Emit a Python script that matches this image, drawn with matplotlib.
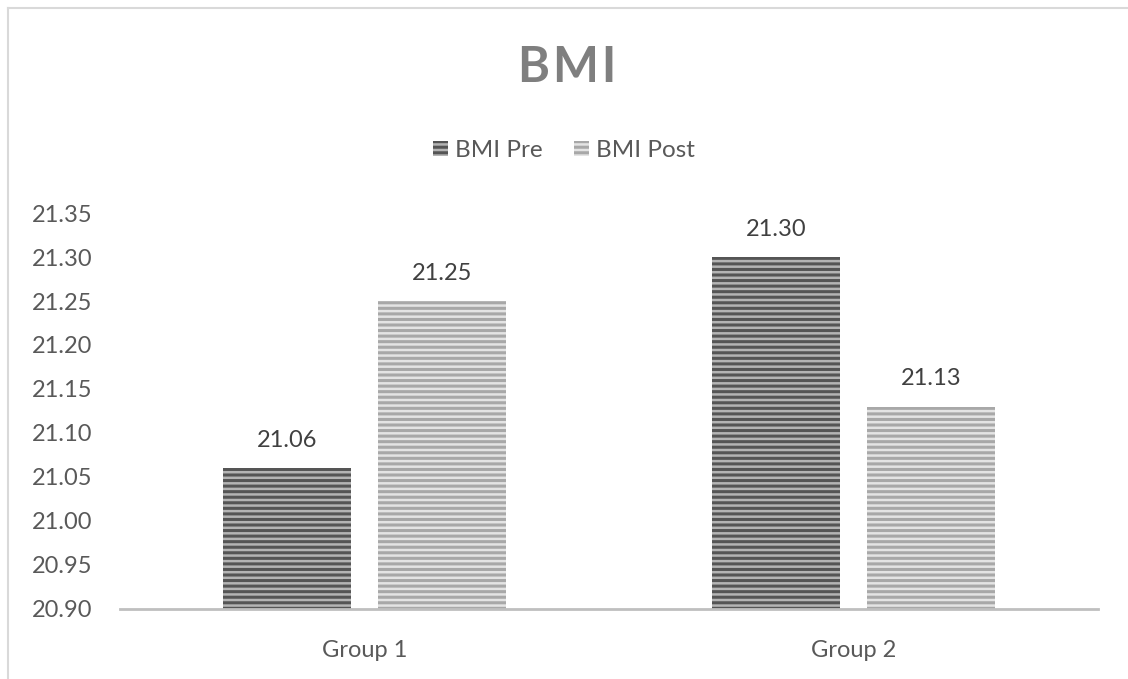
import numpy as np
import matplotlib.pyplot as plt
from matplotlib.lines import Line2D

plt.rcParams['font.family'] = ['Lato', 'DejaVu Sans']
plt.rcParams['hatch.linewidth'] = 2.2

# data
groups = ['Group 1', 'Group 2']
series = ['BMI Pre', 'BMI Post']
bmi_pre = [21.06, 21.30]
bmi_post = [21.25, 21.13]
yticks = [20.90, 20.95, 21.00, 21.05, 21.10, 21.15, 21.20, 21.25, 21.30, 21.35]

fig = plt.figure(figsize=(11.28, 6.79), dpi=100)
ax = fig.add_axes([0.1064, 0.1031, 0.8670, 0.5832])

x = np.arange(len(groups))
w = 0.262
off = 0.158
base = yticks[0]
fs = 17

# striped bars: face = light stripe, hatch (edgecolor) = dark stripe
b1 = ax.bar(x - off, np.array(bmi_pre) - base, w, bottom=base,
            facecolor='#b4b4b4', edgecolor='#555555', linewidth=0,
            hatch='---', label=series[0])
b2 = ax.bar(x + off, np.array(bmi_post) - base, w, bottom=base,
            facecolor='#e4e4e4', edgecolor='#a8a8a8', linewidth=0,
            hatch='---', label=series[1])

for bars, vals in [(b1, bmi_pre), (b2, bmi_post)]:
    for r, v in zip(bars, vals):
        ax.text(r.get_x() + r.get_width() / 2, v + 0.024, f'{v:.2f}',
                ha='center', va='baseline', fontsize=fs, color='#404040')

ax.set_xlim(-0.5, 1.5)
ax.set_ylim(yticks[0], yticks[-1])
ax.set_yticks(yticks)
ax.set_yticklabels([f'{t:.2f}' for t in yticks])
ax.set_xticks(x)
ax.set_xticklabels(groups)
ax.tick_params(axis='both', length=0, labelsize=fs, labelcolor='#595959')
ax.tick_params(axis='y', pad=20)
ax.tick_params(axis='x', pad=22)

for s in ['top', 'right', 'left']:
    ax.spines[s].set_visible(False)
ax.spines['bottom'].set_color('#bfbfbf')
ax.spines['bottom'].set_linewidth(2)

# spaced-out title letters
fig.text(0.503, 0.9, '\u200a'.join('BMI'), ha='center', va='center',
         fontsize=35, fontweight='bold', color='#7f7f7f',
         family=['Lato', 'DejaVu Sans'])

leg = fig.legend(handles=[b1, b2], labels=series, loc='center',
                 bbox_to_anchor=(0.5, 0.778), ncol=2, frameon=False,
                 fontsize=17.5, handlelength=0.6, handleheight=0.6,
                 handletextpad=0.3, columnspacing=1.3)
for t in leg.get_texts():
    t.set_color('#595959')

# chart border (left and top edges)
fig.add_artist(Line2D([8 / 1128, 8 / 1128], [0, 1 - 8 / 679],
                      color='#d9d9d9', lw=1.5))
fig.add_artist(Line2D([8 / 1128, 1], [1 - 8 / 679, 1 - 8 / 679],
                      color='#d9d9d9', lw=1.5))

fig.savefig('out.png', dpi=100)
